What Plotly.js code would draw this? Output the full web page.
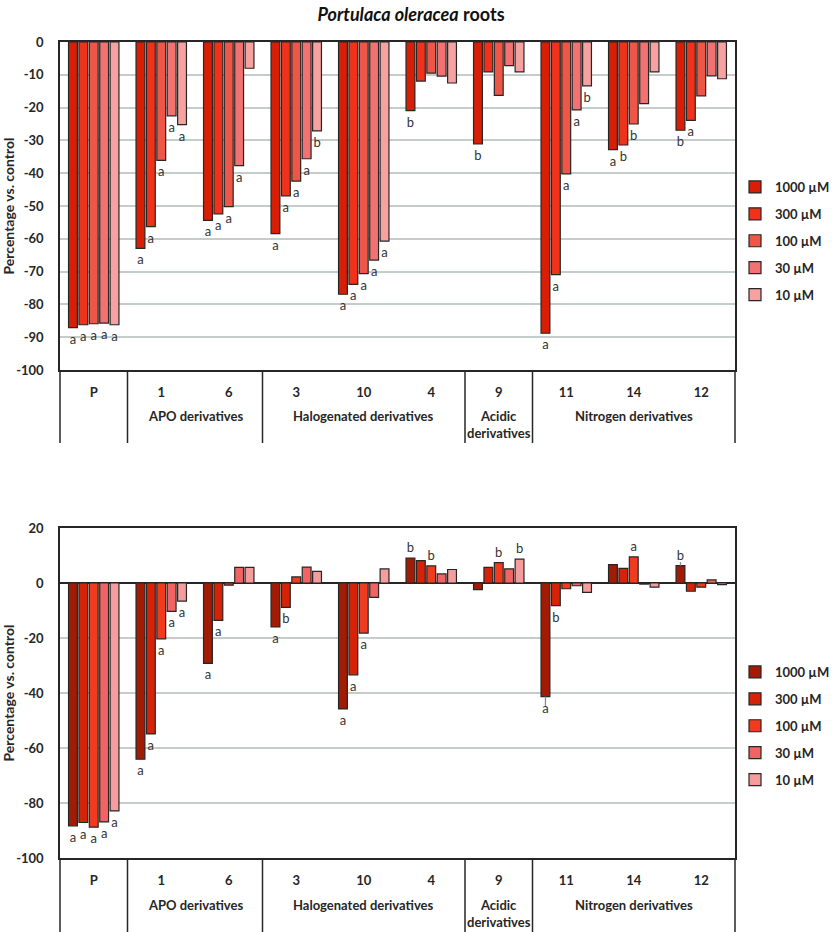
<!DOCTYPE html>
<html><head><meta charset="utf-8">
<script src="https://cdn.plot.ly/plotly-3.0.1.min.js"></script>
<style>body{margin:0;background:#fff}#chart{width:832px;height:932px}</style>
</head><body><div id="chart"></div>
<script>
// ---------- data ----------
const categories = ['P', '1', '6', '3', '10', '4', '9', '11', '14', '12'];
const concentrations = ['1000 µM', '300 µM', '100 µM', '30 µM', '10 µM'];

const groupNames = ['APO derivatives', 'Halogenated derivatives', 'Acidic<br>derivatives', 'Nitrogen derivatives'];
const groupFirst = [1, 3, 6, 7];
const groupLast = [2, 5, 6, 9];

// Roots (% vs. control)
const roots1000 = [-87.1, -62.9, -54.4, -58.4, -76.9, -20.9, -31.1, -88.8, -32.8, -26.9];
const roots300  = [-86.2, -56.3, -52.4, -46.9, -73.9, -11.9, -9.1, -70.9, -31.4, -23.9];
const roots100  = [-85.9, -36.1, -50.2, -42.4, -70.6, -9.5, -16.3, -40.2, -25.0, -16.4];
const roots30   = [-85.7, -22.5, -37.7, -35.6, -66.5, -10.4, -7.2, -20.7, -18.8, -10.3];
const roots10   = [-86.2, -25.2, -8.0, -27.1, -60.7, -12.5, -9.1, -13.4, -9.1, -11.2];

const rootsLetters1000 = ['a', 'a', 'a', 'a', 'a', 'b', 'b', 'a', 'a', 'b'];
const rootsLetters300  = ['a', 'a', 'a', 'a', 'a', '', '', 'a', 'b', 'a'];
const rootsLetters100  = ['a', 'a', 'a', 'a', 'a', '', '', 'a', 'b', ''];
const rootsLetters30   = ['a', 'a', 'a', 'a', 'a', '', '', 'a', '', ''];
const rootsLetters10   = ['a', 'a', '', 'b', 'a', '', '', 'b', '', ''];

// Shoots (% vs. control)
const shoots1000 = [-88.3, -64.1, -29.2, -16.0, -45.8, 9.1, -2.4, -41.3, 6.7, 6.3];
const shoots300  = [-87.1, -54.9, -13.6, -8.9, -33.4, 8.1, 5.7, -8.2, 5.3, -3.0];
const shoots100  = [-88.8, -20.3, -0.8, 2.2, -18.2, 6.2, 7.4, -2.1, 9.5, -1.5];
const shoots30   = [-86.9, -10.3, 5.7, 5.8, -5.2, 3.3, 5.1, -1.0, -0.4, 1.1];
const shoots10   = [-82.9, -6.6, 5.7, 4.2, 5.1, 4.9, 8.7, -3.4, -1.5, -0.6];

const shootsLetters1000 = ['a', 'a', 'a', 'a', 'a', 'b', '', 'a', '', 'b'];
const shootsLetters300  = ['a', 'a', 'a', 'b', 'a', '', '', 'b', '', ''];
const shootsLetters100  = ['a', 'a', '', '', 'a', 'b', 'b', '', 'a', ''];
const shootsLetters30   = ['a', 'a', '', '', '', '', '', '', '', ''];
const shootsLetters10   = ['a', 'a', '', '', '', '', 'b', '', '', ''];

// visible error bars (shoots, 1000 µM)
const shoots1000ErrPlus  = [0, 0, 0, 0, 0, 0, 0, 0, 0, 1.3];
const shoots1000ErrMinus = [0, 0, 0, 0, 0, 0, 0, 3.4, 0, 0];

const rootsTicks = [0, -10, -20, -30, -40, -50, -60, -70, -80, -90, -100];
const shootsTicks = [20, 0, -20, -40, -60, -80, -100];

// ---------- styles ----------
const FONT = 'Lato, "Open Sans", sans-serif';
const INK = '#262626';
const rootsColors = ['#D81E05', '#F0321A', '#EE5648', '#F27272', '#F6A2A0'];
const shootsColors = ['#A21B05', '#D62206', '#F03B1F', '#F26464', '#F59C9C'];

const rootsSeries = [roots1000, roots300, roots100, roots30, roots10];
const rootsLetters = [rootsLetters1000, rootsLetters300, rootsLetters100, rootsLetters30, rootsLetters10];
const shootsSeries = [shoots1000, shoots300, shoots100, shoots30, shoots10];
const shootsLetters = [shootsLetters1000, shootsLetters300, shootsLetters100, shootsLetters30, shootsLetters10];

function makeTraces(series, letters, colors, xa, ya, legendId, prefix) {
  return series.map((vals, i) => ({
    type: 'bar',
    x: categories,
    y: vals,
    name: concentrations[i],
    xaxis: xa, yaxis: ya,
    legend: legendId,
    legendgroup: prefix + i,
    marker: {color: colors[i], line: {color: INK, width: 1.2}},
    text: letters[i],
    textposition: 'outside',
    constraintext: 'none',
    cliponaxis: false,
    textfont: {family: FONT, size: 13, color: '#333'},
    hoverinfo: 'skip'
  }));
}

const traces = makeTraces(rootsSeries, rootsLetters, rootsColors, 'x', 'y', 'legend', 'r')
  .concat(makeTraces(shootsSeries, shootsLetters, shootsColors, 'x2', 'y2', 'legend2', 's'));

// error bars on shoots 1000 µM
traces[5].error_y = {
  type: 'data', symmetric: false,
  array: shoots1000ErrPlus, arrayminus: shoots1000ErrMinus,
  color: '#8a8a8a', thickness: 1.3, width: 0
};

const H = 932;
const nCat = categories.length;
const bounds = [-0.5, 0.5].concat(groupLast.map(g => g + 0.5));

const shapes = [];
const annotations = [];
[['x', 'y', -0.2226, -36], ['x2', 'y2', -0.3, -37]].forEach(([xa, ya, depth, shift]) => {
  bounds.forEach(b => {
    const xd = (b + 0.5) / nCat;
    shapes.push({type: 'line', xref: xa + ' domain', yref: ya + ' domain',
      x0: xd, x1: xd, y0: 0, y1: depth, line: {color: INK, width: 1.5}});
  });
  groupNames.forEach((g, k) => {
    const c = (groupFirst[k] + groupLast[k]) / 2;
    annotations.push({xref: xa + ' domain', yref: ya + ' domain',
      x: (c + 0.5) / nCat, y: 0, yshift: shift, xanchor: 'center', yanchor: 'top',
      text: g, showarrow: false,
      font: {family: FONT, size: 13, weight: 700, color: INK}});
  });
});

annotations.push({xref: 'container', yref: 'container', x: 411 / 832, y: 1 - 500 / H,
  xanchor: 'center', yanchor: 'middle', showarrow: false,
  text: '<i>Portulaca oleracea</i> shoots',
  font: {family: FONT, size: 18, weight: 700, color: '#111'}});

function yAxis(domain, range, ticks, extra) {
  return Object.assign({
    domain: domain, range: range, autorange: false, tickmode: 'array', tickvals: ticks,
    ticktext: ticks.map(String), ticks: '', ticklabelstandoff: 12,
    tickfont: {family: FONT, size: 13, weight: 700, color: INK},
    showgrid: true, gridcolor: '#C4CDC9', gridwidth: 1.5,
    showline: true, mirror: true, linecolor: INK, linewidth: 1.5,
    fixedrange: true,
    title: {text: 'Percentage vs. control', standoff: 6,
      font: {family: FONT, size: 14, weight: 700, color: INK}}
  }, extra || {});
}
function xAxis(anchor) {
  return {
    domain: [0, 1], anchor: anchor, type: 'category',
    range: [-0.5, categories.length - 0.5], autorange: false,
    ticks: '', ticklabelstandoff: 10,
    tickfont: {family: FONT, size: 13, weight: 700, color: INK},
    showgrid: false, showline: true, mirror: true, linecolor: INK, linewidth: 1.5,
    fixedrange: true
  };
}

const legendBase = {
  xref: 'container', yref: 'container', xanchor: 'left', yanchor: 'top',
  font: {family: FONT, size: 13, weight: 700, color: INK},
  tracegroupgap: 7, bgcolor: 'rgba(0,0,0,0)', itemclick: false, itemdoubleclick: false
};

const layout = {
  width: 832, height: H,
  margin: {l: 60, r: 90, t: 0, b: 0, pad: 0},
  paper_bgcolor: '#fff', plot_bgcolor: '#fff',
  font: {family: FONT, color: INK},
  title: {text: '<i>Portulaca oleracea</i> roots', xref: 'container', yref: 'container',
    x: 411 / 832, y: 1 - 15 / H, xanchor: 'center', yanchor: 'middle',
    font: {family: FONT, size: 18, weight: 700, color: '#111'}},
  barmode: 'group', bargap: 0.23, bargroupgap: 0.15,
  showlegend: true,
  xaxis: xAxis('y'),
  yaxis: yAxis([1 - 370 / H, 1 - 42 / H], [-100, 0], rootsTicks, {zeroline: false}),
  xaxis2: xAxis('y2'),
  yaxis2: yAxis([1 - 858 / H, 1 - 528 / H], [-100, 20], shootsTicks,
    {zeroline: true, zerolinecolor: INK, zerolinewidth: 1.5}),
  legend: Object.assign({}, legendBase, {x: 735 / 832, y: 1 - 172 / H}),
  legend2: Object.assign({}, legendBase, {x: 735 / 832, y: 1 - 657 / H}),
  shapes: shapes,
  annotations: annotations
};

Plotly.newPlot('chart', traces, layout, {displayModeBar: false, staticPlot: false});
</script></body></html>
